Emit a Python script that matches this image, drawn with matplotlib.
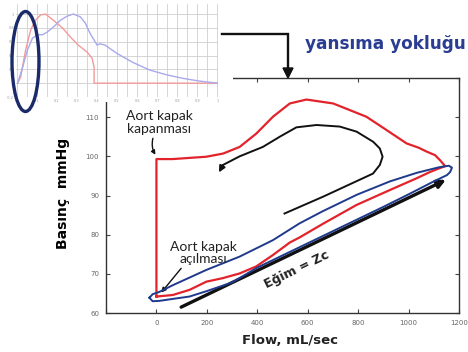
import matplotlib
matplotlib.use('Agg')
import matplotlib.pyplot as plt
from matplotlib.patches import Ellipse, Rectangle
from matplotlib.lines import Line2D

W, H, DPI = 468, 352, 100

# ---------------- main chart data (flow mL/sec, pressure mmHg) ----------------
red_x = [0, 0, 64, 198, 264, 330, 396, 462, 529, 595, 701, 833, 913, 992, 1040,
         1072, 1105, 1125, 1145, 1120, 1085, 1032, 926, 794, 661, 568, 529, 462,
         396, 330, 263, 198, 131, 65, 0]
red_y = [64.2, 99.3, 99.3, 99.9, 100.7, 102.4, 105.8, 110.1, 113.5, 114.5, 113.5,
         110.1, 106.7, 103.3, 102.2, 101.2, 100.3, 99.0, 97.5, 96.9, 96.0, 94.4,
         91.4, 87.6, 82.8, 79.3, 78.0, 74.8, 71.9, 70.1, 68.9, 68.0, 65.9, 64.6, 64.2]

blue_x = [-28, -15, 12, 65, 198, 330, 462, 568, 660, 795, 926, 1033, 1120, 1160,
          1172, 1165, 1152, 1100, 1000, 900, 800, 700, 600, 500, 400, 300, 200,
          131, 65, 12, -15, -28]
blue_y = [63.9, 64.8, 65.4, 67.1, 71.0, 74.4, 78.6, 82.9, 86.0, 90.2, 93.6, 95.8,
          97.2, 97.6, 97.1, 96.0, 95.2, 93.6, 90.3, 87.1, 84.0, 80.9, 77.8, 74.7,
          71.6, 67.8, 65.6, 64.2, 63.6, 63.1, 63.0, 63.9]

black_x = [508, 661, 859, 886, 897, 886, 860, 794, 727, 635, 555, 489, 422, 330, 264]
black_y = [85.4, 89.7, 95.6, 97.8, 99.9, 102.0, 103.7, 106.3, 107.6, 108.0, 107.4,
           105.0, 102.4, 100.0, 97.8]
black_tip = (248, 95.9)

slope_start = (98, 61.5)
slope_end = (1148, 94.0)

x_ticks = [-200, 0, 200, 400, 600, 800, 1000, 1200]
x_labels = ['', '0', '200', '400', '600', '800', '1000', '1200']
y_ticks = [60, 70, 80, 90, 100, 110, 120]
y_labels = ['60', '70', '80', '90', '100', '110', '']

# ---------------- inset data (normalised, time s) ----------------
ired_x = [0.005, 0.02, 0.045, 0.07, 0.094, 0.119, 0.144, 0.183, 0.228, 0.267,
          0.307, 0.351, 0.376, 0.386, 0.386, 1.0]
ired_y = [0, 0.087, 0.48, 0.77, 0.91, 0.986, 1.0, 0.91, 0.80, 0.67, 0.55, 0.45,
          0.36, 0.23, 0.0, 0.0]
iblue_x = [0.005, 0.03, 0.054, 0.079, 0.104, 0.129, 0.153, 0.183, 0.218, 0.252,
           0.282, 0.317, 0.342, 0.366, 0.401, 0.416, 0.441, 0.5, 0.579, 0.663,
           0.748, 0.827, 0.911, 1.0]
iblue_y = [0, 0.23, 0.48, 0.65, 0.70, 0.70, 0.74, 0.81, 0.91, 0.97, 1.0, 0.96,
           0.87, 0.72, 0.55, 0.57, 0.55, 0.43, 0.30, 0.19, 0.12, 0.07, 0.03, 0.0]
inset_xt = [0.1, 0.2, 0.3, 0.4, 0.5, 0.6, 0.7, 0.8, 0.9, 1.0]
inset_xl = ['0.1', '0.2', '0.3', '0.4', '0.5', '0.6', '0.7', '0.8', '0.9', '1']
inset_yt = [-0.2, 0, 0.2, 0.4, 0.6, 0.8, 1.0]
inset_yl = ['-0.2', '0', '0.2', '0.4', '0.6', '0.8', '1']

RED = '#e3232b'
BLUE = '#1f3a8c'
NAVY = '#1b2a6b'


def fx(px):
    return px / W


def fy(py):
    return 1 - py / H


fig = plt.figure(figsize=(W / DPI, H / DPI), dpi=DPI)
fig.patch.set_facecolor('white')

# ---------------- main axes ----------------
ax = fig.add_axes([fx(106), fy(313), fx(459) - fx(106), fy(78) - fy(313)])
ax.set_xlim(-200, 1200)
ax.set_ylim(60, 120)
ax.plot(red_x, red_y, color=RED, lw=1.6, solid_joinstyle='round', zorder=3)
ax.plot(blue_x, blue_y, color=BLUE, lw=1.4, solid_joinstyle='round', zorder=4)
ax.plot(black_x, black_y, color='#111111', lw=1.4, solid_joinstyle='round', zorder=3)
ax.annotate('', xy=black_tip, xytext=(black_x[-1], black_y[-1]),
            arrowprops=dict(arrowstyle='-|>', color='#111111', lw=1.4,
                            mutation_scale=9, shrinkA=0, shrinkB=0))
ax.annotate('', xy=slope_end, xytext=slope_start,
            arrowprops=dict(arrowstyle='-|>', color='#111111', lw=2.4,
                            mutation_scale=12, shrinkA=0, shrinkB=0), zorder=2)

ax.set_xticks(x_ticks)
ax.set_xticklabels(x_labels)
ax.set_yticks(y_ticks)
ax.set_yticklabels(y_labels)
ax.tick_params(direction='in', length=3, width=0.8, top=True, right=True,
               labelsize=5, labelcolor='#666666', pad=5, color='#444444')
for s in ax.spines.values():
    s.set_color('#333333')
    s.set_linewidth(1.0)

ax.set_ylabel('Basınç  mmHg', fontsize=10, fontweight='bold', labelpad=10)
ax.yaxis.set_label_coords(-0.102, 0.51)
ax.text(0.52, -0.115, 'Flow, mL/sec', transform=ax.transAxes, fontsize=9.5,
        fontweight='bold', ha='center', va='center', color='#222222')

ax.text(12, 108.6, 'Aort kapak\nkapanması', fontsize=10, family='Lato',
        ha='center', va='center', linespacing=1.05, color='#222222', clip_on=False)
ax.annotate('', xy=(-4, 100.4), xytext=(-14, 104.6),
            arrowprops=dict(arrowstyle='-|>', color='#111111', lw=1.0,
                            mutation_scale=6, shrinkA=0, shrinkB=0,
                            connectionstyle='arc3,rad=0.2'))
ax.text(187, 75.2, 'Aort kapak\naçılması', fontsize=10, family='Lato',
        ha='center', va='center', linespacing=1.0, color='#222222', zorder=6)
ax.annotate('', xy=(19, 65.2), xytext=(98, 71.4),
            arrowprops=dict(arrowstyle='-|>', color='#111111', lw=1.0,
                            mutation_scale=7, shrinkA=0, shrinkB=0))
ax.text(556, 71.0, 'Eğim = Zc', fontsize=9, fontweight='bold', rotation=26,
        rotation_mode='anchor', ha='center', va='center', color='#222222')

# ---------------- inset background ----------------
fig.add_artist(Rectangle((0, fy(102)), fx(233), 1 - fy(102), transform=fig.transFigure,
                         facecolor='white', edgecolor='none', zorder=1))

ins = fig.add_axes([fx(16), fy(97), fx(218) - fx(16), fy(4) - fy(97)])
ins.set_zorder(2)
ins.set_xlim(-0.003, 1.003)
ins.set_ylim(-0.2, 1.145)
for i in range(21):
    ins.axvline(i * 0.05, color='#cfcfcf', lw=0.6, zorder=0)
for v in inset_yt:
    ins.axhline(v, color='#cfcfcf', lw=0.6, zorder=0)
ins.plot(ired_x, ired_y, color='#f29a9a', lw=1.0)
ins.plot(iblue_x, iblue_y, color='#a9a9ec', lw=1.0)
ins.set_xticks(inset_xt)
ins.set_xticklabels(inset_xl)
ins.set_yticks(inset_yt)
ins.set_yticklabels(inset_yl)
ins.tick_params(length=0, labelsize=2.5, labelcolor='#999999', pad=1.5)
for s in ins.spines.values():
    s.set_visible(False)

# ellipse highlight on inset
fig.add_artist(Ellipse((fx(25.5), fy(61.5)), 27 / W, 100 / H, transform=fig.transFigure,
                       facecolor='none', edgecolor=NAVY, lw=2.4, zorder=5))

# connector arrow
fig.add_artist(Line2D([fx(222), fx(288), fx(288)], [fy(34), fy(34), fy(70)],
                      transform=fig.transFigure, color='#111111', lw=1.7, zorder=5,
                      solid_joinstyle='miter'))
fig.add_artist(plt.Polygon([(fx(283), fy(68)), (fx(293), fy(68)), (fx(288), fy(78))],
                           closed=True, transform=fig.transFigure, facecolor='#111111',
                           edgecolor='#111111', zorder=5))

fig.text(fx(305), fy(44), 'yansıma yokluğu', fontsize=12.2, fontweight='bold',
         color='#2b3d92', ha='left', va='center')

fig.savefig('out.png', dpi=DPI)
